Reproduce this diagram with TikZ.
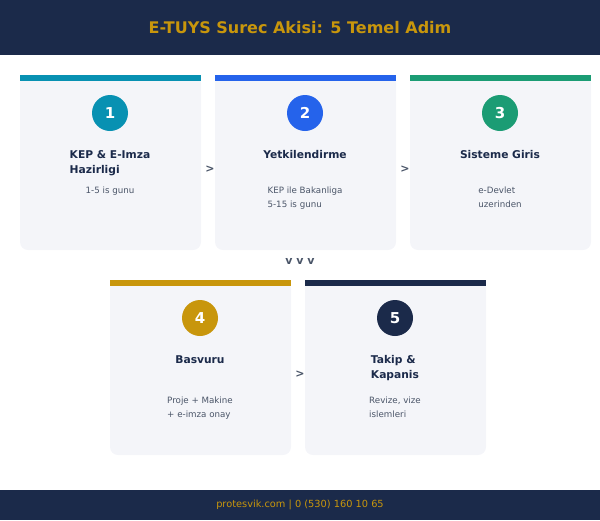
\documentclass[tikz,border=0pt]{standalone}
\usepackage{fontspec}
\setmainfont{DejaVu Sans}
\usepackage{tikz}
\usetikzlibrary{positioning}
\definecolor{navyblue}{HTML}{1B2A4A}
\definecolor{goldtone}{HTML}{C8960C}
\definecolor{cardbg}{HTML}{F4F5F9}
\definecolor{tealstep}{HTML}{0891B2}
\definecolor{bluestep}{HTML}{2563EB}
\definecolor{greenstep}{HTML}{1B9C74}
\definecolor{graytext}{HTML}{4A5568}

\begin{document}
\begin{tikzpicture}[x=1pt,y=-1pt,
  stepnum/.style={circle, minimum size=36pt, inner sep=0pt, text=white, font=\fontsize{15}{17}\bfseries\selectfont},
  steptitle/.style={anchor=north, inner sep=0pt, align=left, text=navyblue, font=\fontsize{10.7}{15}\bfseries\selectfont},
  stepdesc/.style={anchor=north, inner sep=0pt, align=left, text=graytext, font=\fontsize{8.7}{13.5}\selectfont},
  flowsign/.style={inner sep=0pt, text=graytext, font=\fontsize{11}{13}\bfseries\selectfont}]
\useasboundingbox (0,0) rectangle (600,520);
\fill[navyblue] (0,0) rectangle (600,55);
\node[text=goldtone, font=\fontsize{16}{19}\bfseries\selectfont] (title) at (300,28) {E-TUYS Surec Akisi: 5 Temel Adim};
\fill[cardbg, rounded corners=8pt] (20,75) rectangle (201,250);
\fill[tealstep] (20,75) rectangle (201,81);
\node[stepnum, fill=tealstep] (n1) at (110,113) {1};
\node[steptitle] (t1) at (110,150) {KEP \& E-Imza\\Hazirligi};
\node[stepdesc] (d1) at (110,187) {1-5 is gunu};
\fill[cardbg, rounded corners=8pt] (215,75) rectangle (396,250);
\fill[bluestep] (215,75) rectangle (396,81);
\node[stepnum, fill=bluestep] (n2) at (305,113) {2};
\node[steptitle] (t2) at (305,150) {Yetkilendirme};
\node[stepdesc] (d2) at (305,187) {KEP ile Bakanliga\\5-15 is gunu};
\fill[cardbg, rounded corners=8pt] (410,75) rectangle (591,250);
\fill[greenstep] (410,75) rectangle (591,81);
\node[stepnum, fill=greenstep] (n3) at (500,113) {3};
\node[steptitle] (t3) at (500,150) {Sisteme Giris};
\node[stepdesc] (d3) at (500,187) {e-Devlet\\uzerinden};
\node[flowsign] (a12) at (210,169) {>};
\node[flowsign] (a23) at (405,169) {>};
\node[flowsign] (down) at (300,261) {v v v};
\fill[cardbg, rounded corners=8pt] (110,280) rectangle (291,455);
\fill[goldtone] (110,280) rectangle (291,286);
\node[stepnum, fill=goldtone] (n4) at (200,318) {4};
\node[steptitle] (t4) at (200,355) {Basvuru};
\node[stepdesc] (d4) at (200,397) {Proje + Makine\\+ e-imza onay};
\fill[cardbg, rounded corners=8pt] (305,280) rectangle (486,455);
\fill[navyblue] (305,280) rectangle (486,286);
\node[stepnum, fill=navyblue] (n5) at (395,318) {5};
\node[steptitle] (t5) at (395,355) {Takip \&\\Kapanis};
\node[stepdesc] (d5) at (395,397) {Revize, vize\\islemleri};
\node[flowsign] (a45) at (300,374) {>};
\fill[navyblue] (0,490) rectangle (600,520);
\node[text=goldtone, font=\fontsize{9.8}{12}\selectfont] (footer) at (300,505) {protesvik.com | 0 (530) 160 10 65};
\end{tikzpicture}
\end{document}
